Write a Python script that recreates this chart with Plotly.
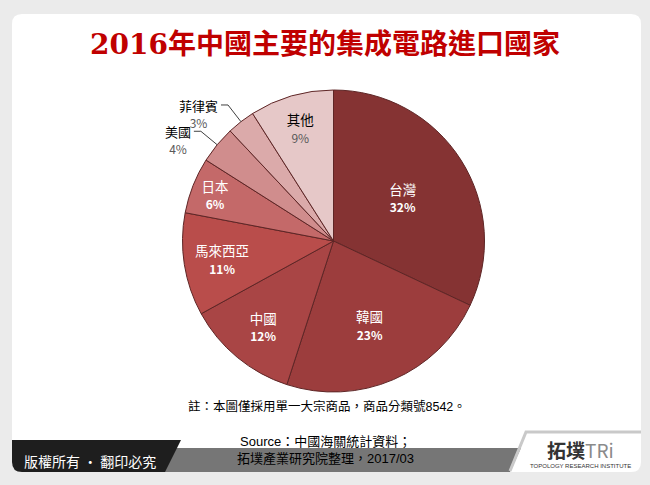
import math
import plotly.graph_objects as go

# ---- data ----
countries = ["台灣", "韓國", "中國", "馬來西亞", "日本", "美國", "菲律賓", "其他"]
shares = [32, 23, 12, 11, 6, 4, 3, 9]
slice_colors = ["#853333", "#9c3d3d", "#a94545", "#b94d4b", "#c46969",
                "#d08d8d", "#dbaaaa", "#e6c8c8"]
outside_items = ["美國", "菲律賓"]

title_text = "2016年中國主要的集成電路進口國家"
note_text = "註：本圖僅採用單一大宗商品，商品分類號8542。"
source_lines = ["Source：中國海關統計資料；", "拓墣產業研究院整理，2017/03"]
footer_left = "版權所有 · 翻印必究"

W, H = 650, 485
def px(x):
    return x / W
def py(y):
    return 1 - y / H

# pie geometry (pixels)
cx, cy, R = 333.5, 241.0, 151.0

texts, tpos, tcolors = [], [], []
for name, v in zip(countries, shares):
    if name in outside_items:
        texts.append("")
        tpos.append("none")
        tcolors.append("#000000")
    elif name == "其他":
        texts.append(f"{name}<br><span style='color:#595959;font-size:12px'>{v}%</span>")
        tpos.append("inside")
        tcolors.append("#000000")
    else:
        texts.append(f"{name}<br><b style='font-size:12px'>{v}%</b>")
        tpos.append("inside")
        tcolors.append("#ffffff")

fig = go.Figure()
fig.add_trace(go.Pie(
    labels=countries, values=shares, text=texts, textinfo="text",
    texttemplate="%{text}", textposition=tpos,
    insidetextorientation="horizontal",
    insidetextfont=dict(color=tcolors, size=13.5, family="Noto Sans CJK TC, Liberation Sans"),
    marker=dict(colors=slice_colors, line=dict(color="#5e2626", width=1)),
    sort=False, direction="clockwise", rotation=0,
    domain=dict(x=[px(cx - R), px(cx + R)], y=[py(cy + R), py(cy - R)]),
    showlegend=False, hoverinfo="label+percent",
))

shapes = []
# white rounded panel
L, T, Rt, B, rr = 12, 14, 641, 472, 10
panel = (f"M {px(L+rr)},{py(T)} L {px(Rt-rr)},{py(T)} Q {px(Rt)},{py(T)} {px(Rt)},{py(T+rr)} "
         f"L {px(Rt)},{py(B-rr)} Q {px(Rt)},{py(B)} {px(Rt-rr)},{py(B)} "
         f"L {px(L+rr)},{py(B)} Q {px(L)},{py(B)} {px(L)},{py(B-rr)} "
         f"L {px(L)},{py(T+rr)} Q {px(L)},{py(T)} {px(L+rr)},{py(T)} Z")
shapes.append(dict(type="path", path=panel, xref="paper", yref="paper",
                   fillcolor="#ffffff", line=dict(width=0), layer="below"))
# gray bar
gray = (f"M {px(170)},{py(448)} L {px(521)},{py(448)} L {px(510)},{py(472)} "
        f"L {px(160)},{py(472)} Z")
shapes.append(dict(type="path", path=gray, xref="paper", yref="paper",
                   fillcolor="#767676", line=dict(width=0), layer="below"))
# dark box
dark = (f"M {px(12)},{py(440)} L {px(181)},{py(440)} L {px(165)},{py(472)} "
        f"L {px(22)},{py(472)} Q {px(12)},{py(472)} {px(12)},{py(462)} Z")
shapes.append(dict(type="path", path=dark, xref="paper", yref="paper",
                   fillcolor="#1e1e1e", line=dict(width=0), layer="below"))
# logo area outline
logo_line = (f"M {px(510)},{py(471)} L {px(526)},{py(432)} L {px(641)},{py(432)}")
shapes.append(dict(type="path", path=logo_line, xref="paper", yref="paper",
                   line=dict(color="#c9c9c9", width=3), layer="below"))

annotations = []
# outside leader lines + labels, positioned from the data angles
total = sum(shares)
cum = 0
for name, v in zip(countries, shares):
    mid = (cum + v / 2) / total * 2 * math.pi
    cum += v
    if name not in outside_items:
        continue
    sx, sy = math.sin(mid), -math.cos(mid)
    ex, ey = cx + R * sx, cy + R * sy
    kx, ky = cx + 1.14 * R * sx, cy + 1.14 * R * sy
    hx = kx - 7
    shapes.append(dict(type="path", xref="paper", yref="paper",
                       path=f"M {px(ex)},{py(ey)} L {px(kx)},{py(ky)} L {px(hx)},{py(ky)}",
                       line=dict(color="#404040", width=1)))
    annotations.append(dict(
        x=px(hx - 1), y=py(ky - 11), xref="paper", yref="paper",
        xanchor="right", yanchor="top", align="center", showarrow=False,
        text=f"{name}<br><span style='color:#595959;font-size:12px'>{v}%</span>",
        font=dict(size=13, color="#000000", family="Noto Sans CJK TC, Liberation Sans")))

# title
annotations.append(dict(x=px(325), y=py(44), xref="paper", yref="paper", showarrow=False,
                        text=f"<b>{title_text}</b>", xanchor="center", yanchor="middle",
                        font=dict(size=28, color="#c00000", family="DejaVu Serif, Noto Sans CJK TC")))
# note
annotations.append(dict(x=px(327), y=py(406), xref="paper", yref="paper", showarrow=False,
                        text=note_text, xanchor="center", yanchor="middle",
                        font=dict(size=12.5, color="#000000", family="Liberation Sans, Noto Sans CJK TC")))
# source
annotations.append(dict(x=px(325), y=py(441), xref="paper", yref="paper", showarrow=False,
                        text=source_lines[0], xanchor="center", yanchor="middle",
                        font=dict(size=13, color="#000000", family="Liberation Sans, Noto Sans CJK TC")))
annotations.append(dict(x=px(325), y=py(458), xref="paper", yref="paper", showarrow=False,
                        text=source_lines[1], xanchor="center", yanchor="middle",
                        font=dict(size=13, color="#000000", family="Liberation Sans, Noto Sans CJK TC")))
# footer left
annotations.append(dict(x=px(90), y=py(461), xref="paper", yref="paper", showarrow=False,
                        text=footer_left, xanchor="center", yanchor="middle",
                        font=dict(size=14, color="#ffffff", family="Noto Sans CJK TC")))
# logo
annotations.append(dict(x=px(580), y=py(449), xref="paper", yref="paper", showarrow=False,
                        text="<b>拓墣</b><span style='color:#8a8a8a'>TR</span><span style='color:#8a8a8a'>i</span>",
                        xanchor="center", yanchor="middle",
                        font=dict(size=19, color="#333333", family="Noto Sans CJK TC")))
annotations.append(dict(x=px(580), y=py(466), xref="paper", yref="paper", showarrow=False,
                        text="TOPOLOGY RESEARCH INSTITUTE", xanchor="center", yanchor="middle",
                        font=dict(size=6, color="#333333", family="Liberation Sans Narrow, Liberation Sans")))

fig.update_layout(
    width=W, height=H, margin=dict(l=0, r=0, t=0, b=0),
    paper_bgcolor="#ebebeb", plot_bgcolor="#ebebeb",
    shapes=shapes, annotations=annotations,
)
fig.write_html("out.html", config={"displayModeBar": False},
               post_script="document.body.style.margin='0';document.body.style.overflow='hidden';")
